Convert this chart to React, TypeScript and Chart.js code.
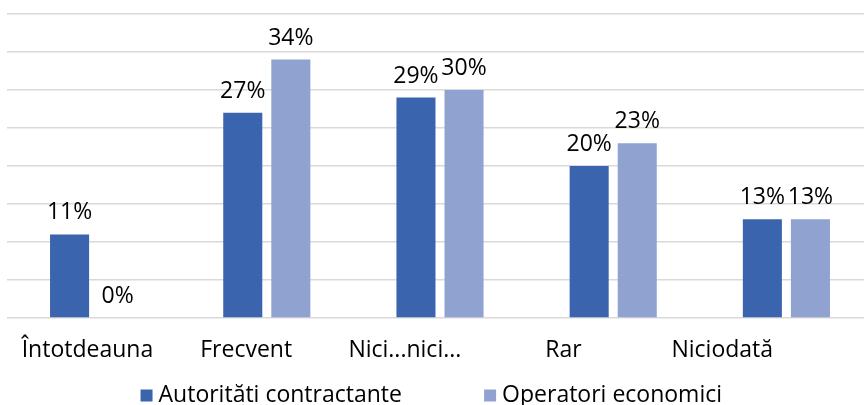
import { useEffect, useRef } from "react";
import { Chart, registerables } from "chart.js";

Chart.register(...registerables);

const categories = ["Întotdeauna", "Frecvent", "Nici...nici...", "Rar", "Niciodată"];
const seriesNames = ["Autorităti contractante", "Operatori economici"];
const autoritati = [11, 27, 29, 20, 13];
const operatori = [0, 34, 30, 23, 13];
const yMin = 0;
const yMax = 40;
const yStep = 5;

const FONT = "'Open Sans', 'Noto Sans', sans-serif";
const FS = 23;
const TEXT = "#000000";
const DARK = "#3A64AD";
const LIGHT = "#8FA2D0";

const valueLabels = {
  id: "valueLabels",
  afterDatasetsDraw(chart: any) {
    const { ctx } = chart;
    ctx.save();
    ctx.font = `${FS}px ${FONT}`;
    ctx.fillStyle = TEXT;
    ctx.textAlign = "center";
    ctx.textBaseline = "alphabetic";
    chart.data.datasets.forEach((ds: any, di: number) => {
      const meta = chart.getDatasetMeta(di);
      meta.data.forEach((el: any, i: number) => {
        ctx.fillText(`${ds.data[i]}%`, el.x, el.y - 15);
      });
    });
    ctx.restore();
  },
};

export default function App() {
  const ref = useRef<HTMLCanvasElement | null>(null);

  useEffect(() => {
    if (!ref.current) return;
    const chart = new Chart(ref.current, {
      type: "bar",
      data: {
        labels: categories,
        datasets: [
          {
            label: seriesNames[0],
            data: autoritati,
            backgroundColor: DARK,
            borderWidth: 0,
            categoryPercentage: 0.555,
            barPercentage: 0.8125,
          },
          {
            label: seriesNames[1],
            data: operatori,
            backgroundColor: LIGHT,
            borderWidth: 0,
            categoryPercentage: 0.555,
            barPercentage: 0.8125,
          },
        ],
      },
      options: {
        responsive: false,
        animation: false,
        layout: { padding: { left: 7, right: 7, top: 14, bottom: 0 } },
        scales: {
          x: {
            type: "category",
            display: false,
          },
          xl: {
            type: "linear",
            position: "bottom",
            offset: false,
            min: -0.507,
            max: 4.95,
            grid: { display: false, offset: false },
            border: { display: false },
            ticks: {
              autoSkip: false,
              maxRotation: 0,
              includeBounds: false,
              padding: 11,
              color: TEXT,
              font: { family: FONT, size: FS },
              callback: (v: any) => categories[Math.round(Number(v))] ?? "",
            },
            afterBuildTicks: (s: any) => {
              s.ticks = categories.map((_, i) => ({ value: i }));
            },
            afterFit: (s: any) => {
              s.height = 56;
            },
          },
          y: {
            min: yMin,
            max: yMax,
            ticks: { display: false, stepSize: yStep },
            grid: { color: "#d9d9d9", lineWidth: 1.5, drawTicks: false },
            border: { display: false },
            afterFit: (s: any) => {
              s.width = 0;
            },
          },
        },
        plugins: {
          tooltip: { enabled: false },
          legend: {
            position: "bottom",
            labels: {
              usePointStyle: true,
              pointStyle: "rect",
              boxWidth: 1,
              boxHeight: 12,
              padding: 10,
              color: TEXT,
              font: { family: FONT, size: FS },
              generateLabels: (c: any) => {
                const items = Chart.defaults.plugins.legend.labels.generateLabels(c);
                return items.map((it: any, i: number) => ({
                  ...it,
                  lineWidth: 0,
                  text: i === 0 ? it.text + "\u00a0".repeat(13) : it.text + "\u00a0\u00a0",
                }));
              },
            },
          },
        },
      },
      plugins: [valueLabels],
    } as any);
    return () => chart.destroy();
  }, []);

  return (
    <div style={{ position: "fixed", left: 0, top: 0, width: 880, height: 417 }}>
      <canvas ref={ref} width={880} height={417} style={{ display: "block" }} />
    </div>
  );
}
